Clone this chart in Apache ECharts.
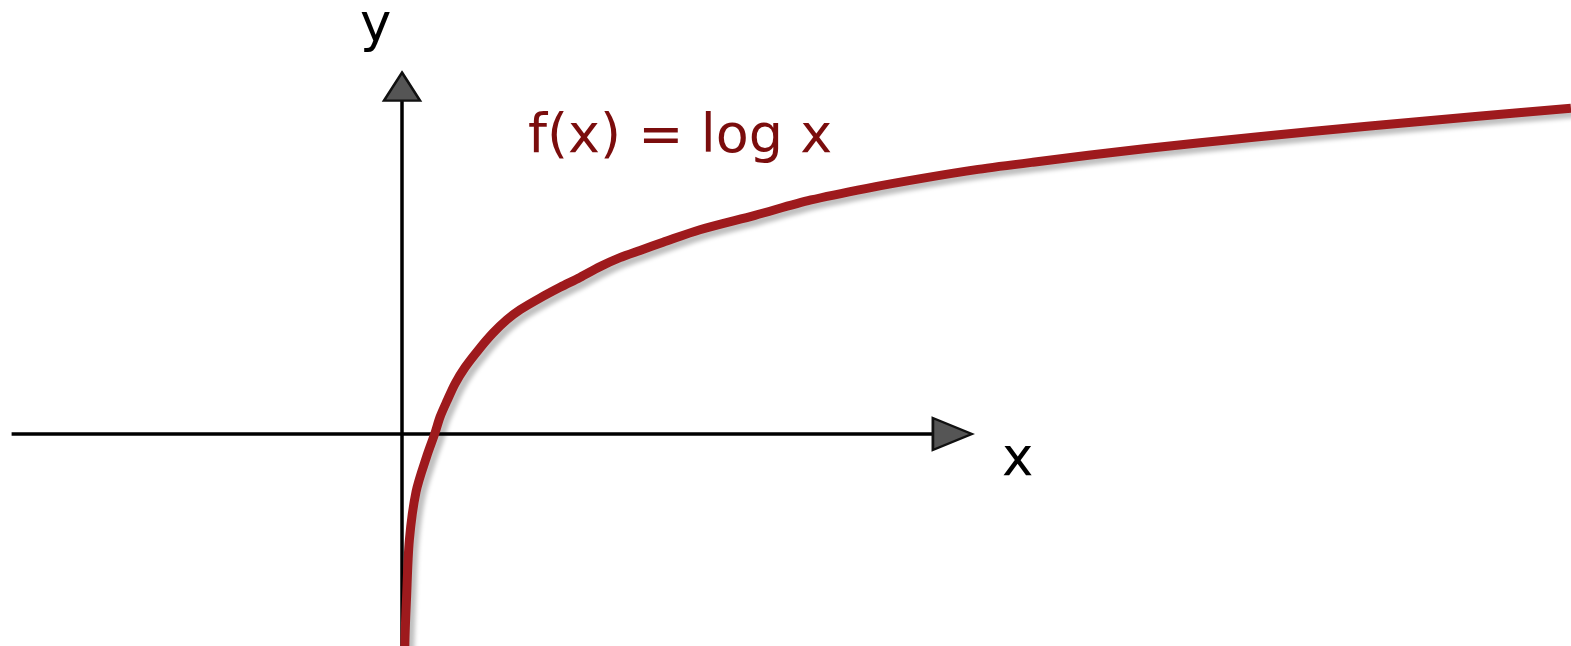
<!DOCTYPE html>
<html lang="en">

<head>
    <meta charset="UTF-8">
    <title>f(x) = log x</title>
    <style>
        html, body {
            margin: 0;
            padding: 0;
            background: #fff;
        }
        #main {
            width: 1571px;
            height: 646px;
        }
    </style>
</head>

<body>
    <div id="main"></div>
    <script src="https://cdn.jsdelivr.net/npm/echarts/dist/echarts.min.js"></script>
    <script>
        // points (x, f(x))
        var curveData = [
            [0.08, -2.96],
            [0.09, -2.32],
            [0.14, -1.84],
            [0.23, -1.18],
            [0.44, -0.64],
            [0.78, -0.24],
            [1.03, 0.01],
            [1.19, 0.19],
            [1.41, 0.37],
            [1.66, 0.56],
            [1.97, 0.74],
            [2.38, 0.93],
            [2.84, 1.12],
            [3.28, 1.27],
            [3.69, 1.38],
            [4.31, 1.51],
            [4.94, 1.63],
            [5.56, 1.74],
            [6.19, 1.86],
            [6.81, 1.96],
            [7.44, 2.04],
            [8.16, 2.13],
            [9.31, 2.27],
            [11.03, 2.43],
            [12.78, 2.6],
            [14.53, 2.73],
            [16.25, 2.84],
            [18.0, 2.94],
            [19.72, 3.02],
            [23.19, 3.17],
            [26.69, 3.3],
            [30.16, 3.42],
            [33.63, 3.53],
            [36.53, 3.62]
        ];
        // axis arrows, from start to arrow head
        var xAxisEnds = [[-12.2, 0], [17.2, 0]];
        var yAxisEnds = [[0, -2.5], [0, 3.86]];

        var funcLabel = 'f(x) = log x';
        var xName = 'x';
        var yName = 'y';

        var myChart = echarts.init(document.getElementById('main'));

        var option = {
            animation: false,
            backgroundColor: '#fff',
            grid: {
                left: 0,
                top: 0,
                width: 1571,
                height: 646
            },
            xAxis: {
                type: 'value',
                min: -12.5625,
                max: 36.53125,
                show: false
            },
            yAxis: {
                type: 'value',
                min: -2.3556,
                max: 4.8222,
                show: false
            },
            series: [{
                type: 'line',
                z: 2,
                data: [
                    { value: xAxisEnds[0], symbol: 'none' },
                    { value: xAxisEnds[1], symbol: 'triangle', symbolSize: [32, 39], symbolRotate: -90 }
                ],
                lineStyle: { color: '#000', width: 3.5 },
                itemStyle: { color: '#555', borderColor: '#111', borderWidth: 2.5 }
            }, {
                type: 'line',
                z: 2,
                data: [
                    { value: yAxisEnds[0], symbol: 'none' },
                    { value: yAxisEnds[1], symbol: 'triangle', symbolSize: [36, 28] }
                ],
                lineStyle: { color: '#000', width: 3.5 },
                itemStyle: { color: '#555', borderColor: '#111', borderWidth: 2.5 }
            }, {
                type: 'line',
                z: 3,
                data: curveData,
                showSymbol: false,
                smooth: 0.3,
                lineStyle: {
                    color: '#9e1a1d',
                    width: 9,
                    shadowColor: 'rgba(0,0,0,0.25)',
                    shadowBlur: 4,
                    shadowOffsetX: 5,
                    shadowOffsetY: 5
                }
            }],
            graphic: [{
                type: 'text',
                x: 528,
                y: 138,
                style: {
                    text: funcLabel,
                    font: '54px "DejaVu Sans"',
                    fill: '#7b0d0d',
                    verticalAlign: 'middle'
                }
            }, {
                type: 'text',
                x: 360,
                y: 27,
                style: {
                    text: yName,
                    font: '53px "DejaVu Sans"',
                    fill: '#000',
                    verticalAlign: 'middle'
                }
            }, {
                type: 'text',
                x: 1002,
                y: 461,
                style: {
                    text: xName,
                    font: '53px "DejaVu Sans"',
                    fill: '#000',
                    verticalAlign: 'middle'
                }
            }]
        };
        myChart.setOption(option);
    </script>
</body>

</html>
